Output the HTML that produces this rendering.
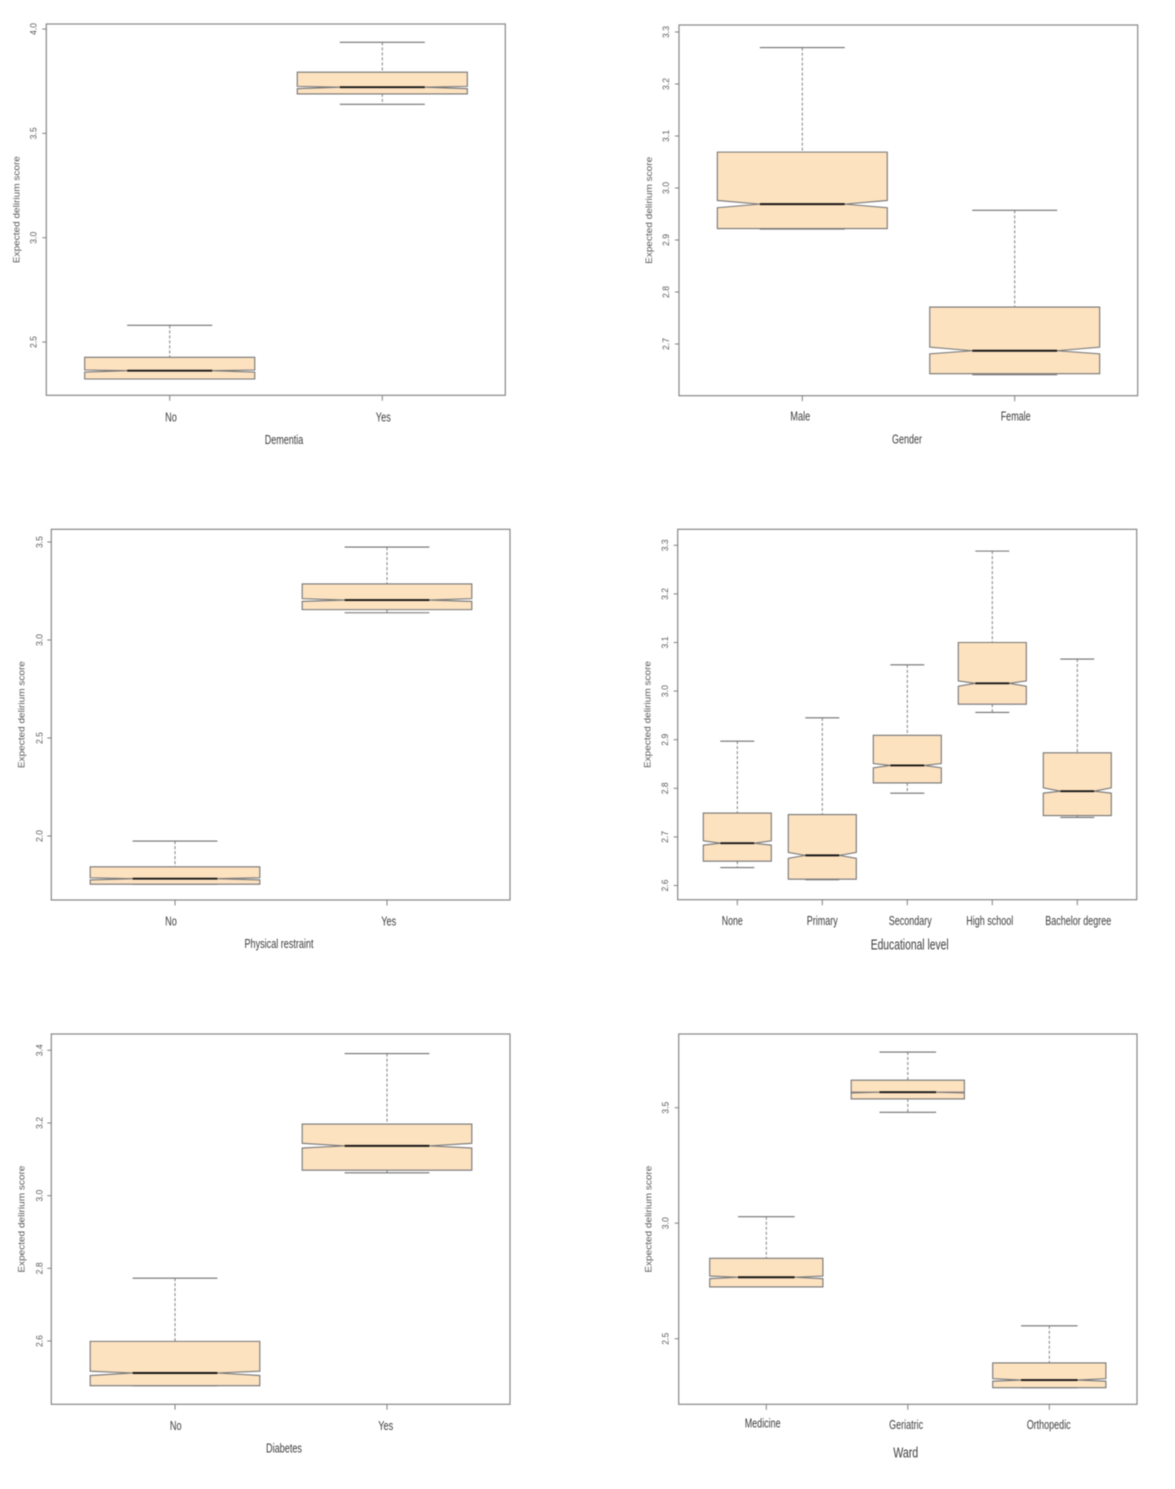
<!DOCTYPE html>
<html lang="en">
<head>
<meta charset="utf-8">
<title>Expected delirium score box plots</title>
<style>
  html, body { margin: 0; padding: 0; background: #fff; }
  body { width: 1175px; height: 1489px; overflow: hidden; }
  svg { display: block; filter: blur(0.45px); font-family: "Liberation Sans", sans-serif; }
</style>
</head>
<body>
<svg id="figure" width="1175" height="1489" viewBox="0 0 1175 1489" xmlns="http://www.w3.org/2000/svg"></svg>
<script>
// ---- Dementia ----
const dementiaCategories = ['No', 'Yes'];
const dementiaWhiskerHigh = [2.580, 3.936];
const dementiaQ3 = [2.427, 3.793];
const dementiaNotchHigh = [2.366, 3.725];
const dementiaMedian = [2.363, 3.721];
const dementiaNotchLow = [2.356, 3.714];
const dementiaQ1 = [2.323, 3.689];
const dementiaWhiskerLow = [2.323, 3.639];
const dementiaTicks = ['2.5', '3.0', '3.5', '4.0'];

// ---- Gender ----
const genderCategories = ['Male', 'Female'];
const genderWhiskerHigh = [3.270, 2.957];
const genderQ3 = [3.069, 2.771];
const genderNotchHigh = [2.976, 2.694];
const genderMedian = [2.969, 2.687];
const genderNotchLow = [2.962, 2.681];
const genderQ1 = [2.922, 2.643];
const genderWhiskerLow = [2.921, 2.641];
const genderTicks = ['2.7', '2.8', '2.9', '3.0', '3.1', '3.2', '3.3'];

// ---- Physical restraint ----
const restraintCategories = ['No', 'Yes'];
const restraintWhiskerHigh = [1.974, 3.474];
const restraintQ3 = [1.843, 3.286];
const restraintNotchHigh = [1.787, 3.211];
const restraintMedian = [1.782, 3.204];
const restraintNotchLow = [1.776, 3.197];
const restraintQ1 = [1.754, 3.155];
const restraintWhiskerLow = [1.754, 3.139];
const restraintTicks = ['2.0', '2.5', '3.0', '3.5'];

// ---- Educational level ----
const educationCategories = ['None', 'Primary', 'Secondary', 'High school', 'Bachelor degree'];
const educationWhiskerHigh = [2.897, 2.945, 3.054, 3.288, 3.066];
const educationQ3 = [2.749, 2.746, 2.909, 3.100, 2.873];
const educationNotchHigh = [2.692, 2.668, 2.851, 3.021, 2.801];
const educationMedian = [2.687, 2.662, 2.847, 3.016, 2.794];
const educationNotchLow = [2.683, 2.656, 2.842, 3.010, 2.790];
const educationQ1 = [2.650, 2.613, 2.811, 2.973, 2.744];
const educationWhiskerLow = [2.637, 2.612, 2.790, 2.956, 2.740];
const educationTicks = ['2.6', '2.7', '2.8', '2.9', '3.0', '3.1', '3.2', '3.3'];

// ---- Diabetes ----
const diabetesCategories = ['No', 'Yes'];
const diabetesWhiskerHigh = [2.773, 3.391];
const diabetesQ3 = [2.599, 3.197];
const diabetesNotchHigh = [2.517, 3.144];
const diabetesMedian = [2.512, 3.137];
const diabetesNotchLow = [2.505, 3.131];
const diabetesQ1 = [2.477, 3.070];
const diabetesWhiskerLow = [2.477, 3.063];
const diabetesTicks = ['2.6', '2.8', '3.0', '3.2', '3.4'];

// ---- Ward ----
const wardCategories = ['Medicine', 'Geriatric', 'Orthopedic'];
const wardWhiskerHigh = [3.028, 3.741, 2.556];
const wardQ3 = [2.848, 3.619, 2.395];
const wardNotchHigh = [2.771, 3.568, 2.327];
const wardMedian = [2.766, 3.567, 2.321];
const wardNotchLow = [2.760, 3.564, 2.316];
const wardQ1 = [2.724, 3.538, 2.288];
const wardWhiskerLow = [2.724, 3.480, 2.288];
const wardTicks = ['2.5', '3.0', '3.5'];

const NS = 'http://www.w3.org/2000/svg';
const root = document.getElementById('figure');

function make(tag, parent) {
  const el = document.createElementNS(NS, tag);
  parent.appendChild(el);
  return el;
}

function drawLine(el, x1, y1, x2, y2, color, width) {
  el.setAttribute('x1', x1);
  el.setAttribute('y1', y1);
  el.setAttribute('x2', x2);
  el.setAttribute('y2', y2);
  el.setAttribute('stroke', color);
  el.setAttribute('stroke-width', width);
}

function placeText(el, str, x, y, size, color, length, rotated) {
  el.textContent = str;
  el.setAttribute('x', x);
  el.setAttribute('y', y);
  el.setAttribute('font-size', size);
  el.setAttribute('fill', color);
  el.setAttribute('text-anchor', 'middle');
  if (length) {
    el.setAttribute('textLength', length);
    el.setAttribute('lengthAdjust', 'spacingAndGlyphs');
  }
  if (rotated) {
    el.setAttribute('transform', 'rotate(-90 ' + x + ' ' + y + ')');
  }
}

function drawPanel(p) {
  const yScale = v => p.refPx + (p.refVal - v) * p.pxPerUnit;
  const xScale = i => p.firstX + i * p.stepX;
  const halfBox = p.stepX * 0.4;
  const halfCap = p.stepX * 0.2;

  const g = make('g', root);
  
  

  const frame = make('rect', g);
  
  
  frame.setAttribute('x', p.left);
  frame.setAttribute('y', p.top);
  frame.setAttribute('width', p.right - p.left);
  frame.setAttribute('height', p.bottom - p.top);
  frame.setAttribute('fill', '#fff');
  frame.setAttribute('stroke', '#868686');
  frame.setAttribute('stroke-width', '1.2');

  p.ticks.forEach(label => {
    const y = yScale(parseFloat(label));
    const tick = make('line', g);
    
    
    drawLine(tick, p.left - 4, y, p.left, y, '#808080', 1);

    const text = make('text', g);
    
    
    placeText(text, label, p.left - p.tickLabelGap, y, 9.5, '#5a5a5a', 12, true);
  });

  const yTitle = make('text', g);
  
  
  placeText(yTitle, 'Expected delirium score', p.left - 27, (p.top + p.bottom) / 2, 9, '#5a5a5a', 107, true);

  p.categories.forEach((cat, i) => {
    const x = xScale(i);
    const boxName = p.id + '-' + cat.toLowerCase().replace(/\s+/g, '-');

    const xTick = make('line', g);
    
    
    drawLine(xTick, x, p.bottom, x, p.bottom + 5.5, '#808080', 1);

    const upper = make('line', g);
    
    
    drawLine(upper, x, yScale(p.whiskerHigh[i]), x, yScale(p.q3[i]), '#808080', 1);
    upper.setAttribute('stroke-dasharray', '3 2');

    const lower = make('line', g);
    
    
    drawLine(lower, x, yScale(p.q1[i]), x, yScale(p.whiskerLow[i]), '#808080', 1);
    lower.setAttribute('stroke-dasharray', '3 2');

    const capHigh = make('line', g);
    
    
    drawLine(capHigh, x - halfCap, yScale(p.whiskerHigh[i]), x + halfCap, yScale(p.whiskerHigh[i]), '#707070', 1.1);

    const capLow = make('line', g);
    
    
    drawLine(capLow, x - halfCap, yScale(p.whiskerLow[i]), x + halfCap, yScale(p.whiskerLow[i]), '#707070', 1.1);

    const x0 = x - halfBox;
    const x1 = x + halfBox;
    const inL = x - halfCap;
    const inR = x + halfCap;
    const box = make('path', g);
    
    
    box.setAttribute('d',
      'M' + x0 + ' ' + yScale(p.q3[i]) +
      'L' + x1 + ' ' + yScale(p.q3[i]) +
      'L' + x1 + ' ' + yScale(p.notchHigh[i]) +
      'L' + inR + ' ' + yScale(p.median[i]) +
      'L' + x1 + ' ' + yScale(p.notchLow[i]) +
      'L' + x1 + ' ' + yScale(p.q1[i]) +
      'L' + x0 + ' ' + yScale(p.q1[i]) +
      'L' + x0 + ' ' + yScale(p.notchLow[i]) +
      'L' + inL + ' ' + yScale(p.median[i]) +
      'L' + x0 + ' ' + yScale(p.notchHigh[i]) + 'Z');
    box.setAttribute('fill', '#fde2c0');
    box.setAttribute('stroke', '#757575');
    box.setAttribute('stroke-width', '1.1');

    const med = make('line', g);
    
    
    drawLine(med, inL, yScale(p.median[i]), inR, yScale(p.median[i]), '#141414', 1.9);

    const label = make('text', g);
    
    
    placeText(label, cat, x + p.labelDx[i], p.labelY + (p.labelDy ? p.labelDy[i] : 0), 12.5, '#3c3c3c', p.labelW[i], false);
  });

  const xTitle = make('text', g);
  
  
  placeText(xTitle, p.title, p.titleX, p.titleY, p.titleSize, '#3c3c3c', p.titleW, false);
}

drawPanel({
  id: 'dementia', title: 'Dementia',
  categories: dementiaCategories, ticks: dementiaTicks,
  whiskerHigh: dementiaWhiskerHigh, q3: dementiaQ3, notchHigh: dementiaNotchHigh,
  median: dementiaMedian, notchLow: dementiaNotchLow, q1: dementiaQ1, whiskerLow: dementiaWhiskerLow,
  left: 46.3, right: 505.3, top: 24, bottom: 395.3,
  refVal: 4.0, refPx: 29, pxPerUnit: 208.7, firstX: 169.7, stepX: 212.6, tickLabelGap: 9.6,
  labelDx: [1.3, 1], labelW: [11.7, 15], labelY: 421.7,
  titleX: 284, titleY: 444, titleW: 38.5, titleSize: 12.5
});

drawPanel({
  id: 'gender', title: 'Gender',
  categories: genderCategories, ticks: genderTicks,
  whiskerHigh: genderWhiskerHigh, q3: genderQ3, notchHigh: genderNotchHigh,
  median: genderMedian, notchLow: genderNotchLow, q1: genderQ1, whiskerLow: genderWhiskerLow,
  left: 679, right: 1137.7, top: 25, bottom: 395.7,
  refVal: 3.3, refPx: 32, pxPerUnit: 520, firstX: 802.3, stepX: 212.4, tickLabelGap: 10,
  labelDx: [-2, 1], labelW: [20, 30], labelY: 420.7,
  titleX: 907, titleY: 443.3, titleW: 30, titleSize: 12.5
});

drawPanel({
  id: 'physical-restraint', title: 'Physical restraint',
  categories: restraintCategories, ticks: restraintTicks,
  whiskerHigh: restraintWhiskerHigh, q3: restraintQ3, notchHigh: restraintNotchHigh,
  median: restraintMedian, notchLow: restraintNotchLow, q1: restraintQ1, whiskerLow: restraintWhiskerLow,
  left: 51.3, right: 510, top: 529.3, bottom: 900,
  refVal: 3.5, refPx: 542, pxPerUnit: 196, firstX: 175, stepX: 212, tickLabelGap: 8.6,
  labelDx: [-4, 1.7], labelW: [11.7, 15], labelY: 925.7,
  titleX: 279, titleY: 948, titleW: 69, titleSize: 12.5
});

drawPanel({
  id: 'educational-level', title: 'Educational level',
  categories: educationCategories, ticks: educationTicks,
  whiskerHigh: educationWhiskerHigh, q3: educationQ3, notchHigh: educationNotchHigh,
  median: educationMedian, notchLow: educationNotchLow, q1: educationQ1, whiskerLow: educationWhiskerLow,
  left: 677.7, right: 1136.7, top: 529.3, bottom: 899.7,
  refVal: 3.3, refPx: 545.3, pxPerUnit: 486, firstX: 737.3, stepX: 85, tickLabelGap: 9.7,
  labelDx: [-5, 0, 3, -2.5, 1], labelW: [21, 31, 43, 47, 66], labelY: 925,
  titleX: 909.7, titleY: 949.3, titleW: 78, titleSize: 14.5
});

drawPanel({
  id: 'diabetes', title: 'Diabetes',
  categories: diabetesCategories, ticks: diabetesTicks,
  whiskerHigh: diabetesWhiskerHigh, q3: diabetesQ3, notchHigh: diabetesNotchHigh,
  median: diabetesMedian, notchLow: diabetesNotchLow, q1: diabetesQ1, whiskerLow: diabetesWhiskerLow,
  left: 51.3, right: 510, top: 1034, bottom: 1404.3,
  refVal: 3.4, refPx: 1050.3, pxPerUnit: 363.4, firstX: 175, stepX: 212, tickLabelGap: 8.6,
  labelDx: [0.7, -1.3], labelW: [11.7, 15], labelY: 1430,
  titleX: 284, titleY: 1452.7, titleW: 36, titleSize: 12.5
});

drawPanel({
  id: 'ward', title: 'Ward',
  categories: wardCategories, ticks: wardTicks,
  whiskerHigh: wardWhiskerHigh, q3: wardQ3, notchHigh: wardNotchHigh,
  median: wardMedian, notchLow: wardNotchLow, q1: wardQ1, whiskerLow: wardWhiskerLow,
  left: 678.7, right: 1137, top: 1034, bottom: 1404.3,
  refVal: 3.5, refPx: 1107.7, pxPerUnit: 231, firstX: 766.3, stepX: 141.5, tickLabelGap: 10,
  labelDx: [-3.6, -1.7, -0.6], labelW: [36, 34, 44], labelDy: [-1.7, 0, 0], labelY: 1429,
  titleX: 905.7, titleY: 1457.3, titleW: 25, titleSize: 14.5
});
</script>
</body>
</html>
